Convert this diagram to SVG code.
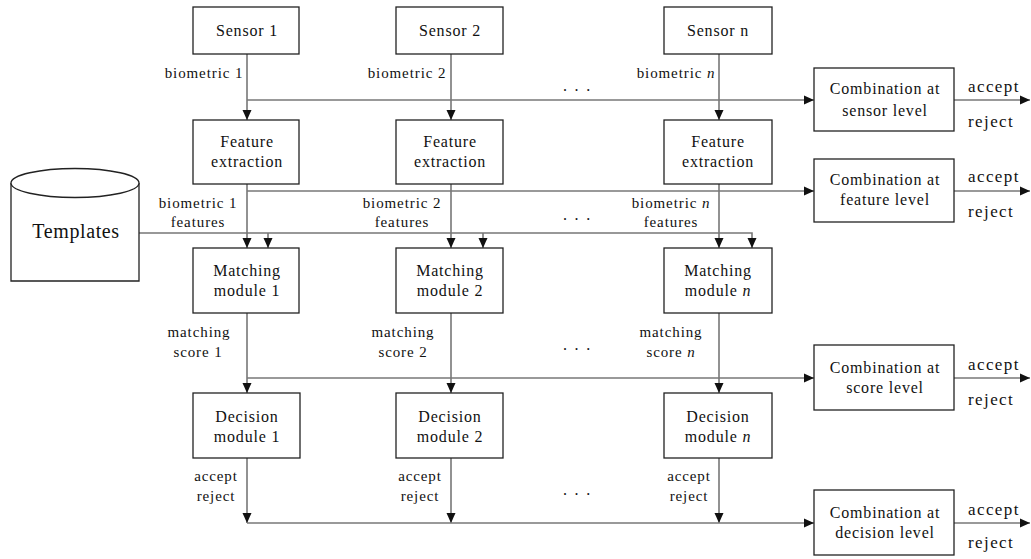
<svg xmlns="http://www.w3.org/2000/svg" width="1031" height="559" viewBox="0 0 1031 559">
<style>
.box{fill:#fff;stroke:#222;stroke-width:1.3}
.ln{fill:none;stroke:#777;stroke-width:1.6}
.t{font-family:"Liberation Serif","Times New Roman",serif;font-size:16px;letter-spacing:0.8px;fill:#111;text-anchor:middle}
.lb{font-family:"Liberation Serif","Times New Roman",serif;font-size:15px;letter-spacing:0.9px;fill:#111;text-anchor:middle}
.out{font-family:"Liberation Serif","Times New Roman",serif;font-size:17px;letter-spacing:1.4px;fill:#111}
.dots{font-family:"Liberation Serif","Times New Roman",serif;font-size:16px;letter-spacing:1.8px;fill:#111}
.i{font-style:italic}
</style>
<defs>
<marker id="ah" markerUnits="userSpaceOnUse" markerWidth="10" markerHeight="10" refX="10" refY="5" orient="auto" viewBox="0 0 10 10">
<path d="M0,0.5 L10,5 L0,9.5 z" fill="#111"/>
</marker>
</defs>
<rect width="1031" height="559" fill="#fff"/>

<g id="connectors">
<!-- column 1 -->
<line class="ln" x1="247" y1="54" x2="247" y2="120" marker-end="url(#ah)"/>
<line class="ln" x1="247" y1="184" x2="247" y2="248" marker-end="url(#ah)"/>
<line class="ln" x1="247" y1="313" x2="247" y2="393" marker-end="url(#ah)"/>
<line class="ln" x1="247" y1="458" x2="247" y2="523" marker-end="url(#ah)"/>
<!-- column 2 -->
<line class="ln" x1="451" y1="54" x2="451" y2="120" marker-end="url(#ah)"/>
<line class="ln" x1="451" y1="184" x2="451" y2="248" marker-end="url(#ah)"/>
<line class="ln" x1="451" y1="313" x2="451" y2="393" marker-end="url(#ah)"/>
<line class="ln" x1="451" y1="458" x2="451" y2="523" marker-end="url(#ah)"/>
<!-- column n -->
<line class="ln" x1="719" y1="54" x2="719" y2="120" marker-end="url(#ah)"/>
<line class="ln" x1="719" y1="184" x2="719" y2="248" marker-end="url(#ah)"/>
<line class="ln" x1="719" y1="313" x2="719" y2="393" marker-end="url(#ah)"/>
<line class="ln" x1="719" y1="458" x2="719" y2="523" marker-end="url(#ah)"/>
<!-- level buses -->
<line class="ln" x1="247" y1="100" x2="814" y2="100" marker-end="url(#ah)"/>
<line class="ln" x1="247" y1="191" x2="814" y2="191" marker-end="url(#ah)"/>
<line class="ln" x1="247" y1="378" x2="814" y2="378" marker-end="url(#ah)"/>
<line class="ln" x1="247" y1="523" x2="814" y2="523" marker-end="url(#ah)"/>
<!-- templates bus -->
<polyline class="ln" points="139,233 752,233 752,248" marker-end="url(#ah)"/>
<line class="ln" x1="268" y1="233" x2="268" y2="248" marker-end="url(#ah)"/>
<line class="ln" x1="483" y1="233" x2="483" y2="248" marker-end="url(#ah)"/>
<!-- outputs -->
<line class="ln" x1="954" y1="100" x2="1030" y2="100" marker-end="url(#ah)"/>
<line class="ln" x1="954" y1="191" x2="1030" y2="191" marker-end="url(#ah)"/>
<line class="ln" x1="954" y1="378" x2="1030" y2="378" marker-end="url(#ah)"/>
<line class="ln" x1="954" y1="523" x2="1030" y2="523" marker-end="url(#ah)"/>
</g>

<g id="labels">
<text class="lb" x="204" y="78">biometric 1</text>
<text class="lb" x="407" y="78">biometric 2</text>
<text class="lb" x="676" y="78">biometric <tspan class="i">n</tspan></text>
<text class="lb" x="198" y="208">biometric 1</text>
<text class="lb" x="198" y="227">features</text>
<text class="lb" x="402" y="208">biometric 2</text>
<text class="lb" x="402" y="227">features</text>
<text class="lb" x="671" y="208">biometric <tspan class="i">n</tspan></text>
<text class="lb" x="671" y="227">features</text>
<text class="lb" x="199" y="337">matching</text>
<text class="lb" x="198" y="357">score 1</text>
<text class="lb" x="403" y="337">matching</text>
<text class="lb" x="403" y="357">score 2</text>
<text class="lb" x="671" y="337">matching</text>
<text class="lb" x="671" y="357">score <tspan class="i">n</tspan></text>
<text class="lb" x="216" y="481">accept</text>
<text class="lb" x="216" y="501">reject</text>
<text class="lb" x="420" y="481">accept</text>
<text class="lb" x="420" y="501">reject</text>
<text class="lb" x="689" y="481">accept</text>
<text class="lb" x="689" y="501">reject</text>
<text class="dots" x="563" y="91">. . .</text>
<text class="dots" x="563" y="220">. . .</text>
<text class="dots" x="563" y="350">. . .</text>
<text class="dots" x="563" y="495">. . .</text>
<text class="out" x="968" y="92">accept</text>
<text class="out" x="968" y="127">reject</text>
<text class="out" x="968" y="182">accept</text>
<text class="out" x="968" y="217">reject</text>
<text class="out" x="968" y="370">accept</text>
<text class="out" x="968" y="405">reject</text>
<text class="out" x="968" y="515">accept</text>
<text class="out" x="968" y="548">reject</text>
</g>

<g id="templates">
<path class="box" d="M11,183 L11,281 L139,281 L139,183"/>
<ellipse class="box" cx="75" cy="183" rx="64" ry="14.5"/>
<text class="t" x="76" y="238" style="font-size:20px;letter-spacing:0.6px">Templates</text>
</g>

<g id="sensor1"><rect class="box" x="193" y="7" width="106" height="47"/><text class="t" x="247" y="36">Sensor 1</text></g>
<g id="sensor2"><rect class="box" x="396" y="7" width="107" height="47"/><text class="t" x="450" y="36">Sensor 2</text></g>
<g id="sensorn"><rect class="box" x="664" y="7" width="108" height="47"/><text class="t" x="718" y="36">Sensor n</text></g>

<g id="feature1"><rect class="box" x="193" y="120" width="106" height="64"/><text class="t" x="247" y="147">Feature</text><text class="t" x="247" y="167">extraction</text></g>
<g id="feature2"><rect class="box" x="396" y="120" width="107" height="64"/><text class="t" x="450" y="147">Feature</text><text class="t" x="450" y="167">extraction</text></g>
<g id="featuren"><rect class="box" x="664" y="120" width="108" height="64"/><text class="t" x="718" y="147">Feature</text><text class="t" x="718" y="167">extraction</text></g>

<g id="matching1"><rect class="box" x="193" y="248" width="106" height="65"/><text class="t" x="247" y="276">Matching</text><text class="t" x="247" y="296">module 1</text></g>
<g id="matching2"><rect class="box" x="396" y="248" width="107" height="65"/><text class="t" x="450" y="276">Matching</text><text class="t" x="450" y="296">module 2</text></g>
<g id="matchingn"><rect class="box" x="664" y="248" width="108" height="65"/><text class="t" x="718" y="276">Matching</text><text class="t" x="718" y="296">module <tspan class="i">n</tspan></text></g>

<g id="decision1"><rect class="box" x="193" y="393" width="107" height="65"/><text class="t" x="247" y="422">Decision</text><text class="t" x="247" y="442">module 1</text></g>
<g id="decision2"><rect class="box" x="396" y="393" width="107" height="65"/><text class="t" x="450" y="422">Decision</text><text class="t" x="450" y="442">module 2</text></g>
<g id="decisionn"><rect class="box" x="664" y="393" width="108" height="65"/><text class="t" x="718" y="422">Decision</text><text class="t" x="718" y="442">module <tspan class="i">n</tspan></text></g>

<g id="comb_sensor"><rect class="box" x="814" y="68" width="140" height="63"/><text class="t" x="885" y="94">Combination at</text><text class="t" x="885" y="116">sensor level</text></g>
<g id="comb_feature"><rect class="box" x="814" y="159" width="140" height="63"/><text class="t" x="885" y="185">Combination at</text><text class="t" x="885" y="205">feature level</text></g>
<g id="comb_score"><rect class="box" x="814" y="345" width="140" height="65"/><text class="t" x="885" y="373">Combination at</text><text class="t" x="885" y="393">score level</text></g>
<g id="comb_decision"><rect class="box" x="814" y="490" width="140" height="65"/><text class="t" x="885" y="518">Combination at</text><text class="t" x="885" y="538">decision level</text></g>
</svg>
